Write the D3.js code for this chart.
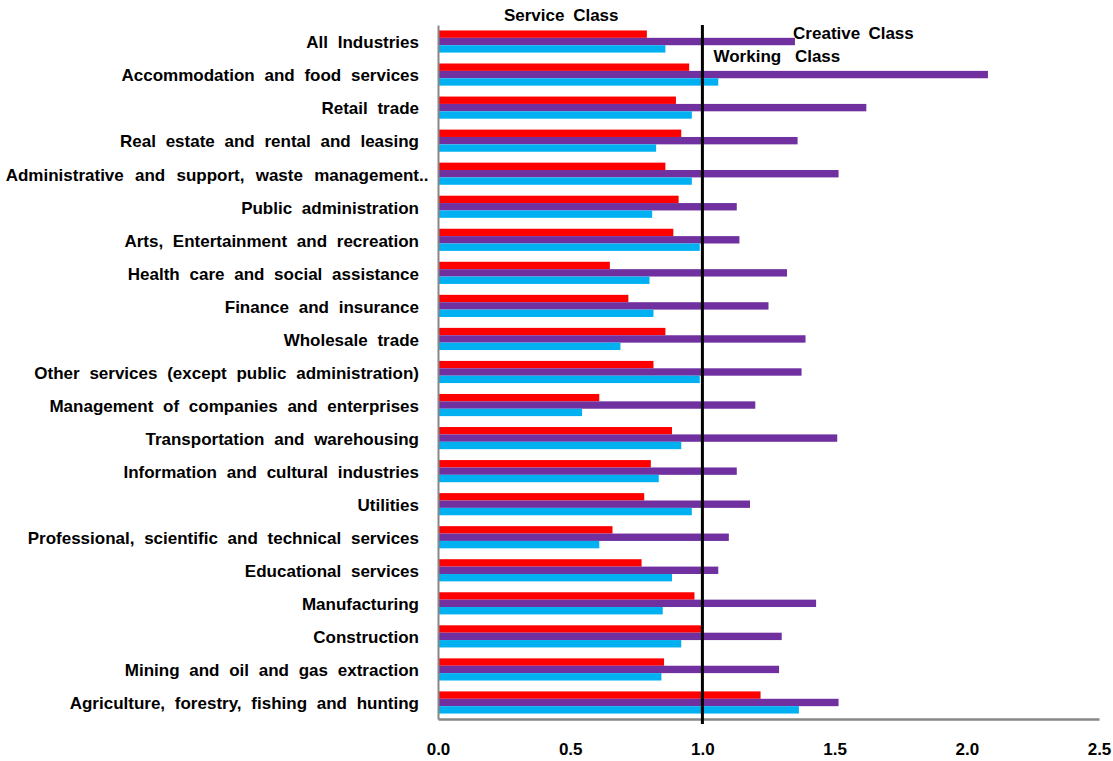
<!DOCTYPE html>
<html>
<head>
<meta charset="utf-8">
<script src="https://cdn.jsdelivr.net/npm/d3@7/dist/d3.min.js"></script>
<style>
  html, body { margin: 0; padding: 0; background: #fff; }
  svg text { font-family: "Liberation Sans", Arial, sans-serif; font-weight: bold; fill: #000; }
</style>
</head>
<body>
<svg id="chart" width="1113" height="761"></svg>
<script>
// Industries, top to bottom
const industries = [
  "All Industries",
  "Accommodation and food services",
  "Retail trade",
  "Real estate and rental and leasing",
  "Administrative and support, waste management..",
  "Public administration",
  "Arts, Entertainment and recreation",
  "Health care and social assistance",
  "Finance and insurance",
  "Wholesale trade",
  "Other services (except public administration)",
  "Management of companies and enterprises",
  "Transportation and warehousing",
  "Information and cultural industries",
  "Utilities",
  "Professional, scientific and technical services",
  "Educational services",
  "Manufacturing",
  "Construction",
  "Mining and oil and gas extraction",
  "Agriculture, forestry, fishing and hunting"
];

const seriesNames = ["Service Class", "Creative Class", "Working Class"];
const seriesColors = ["#ff0000", "#7030a0", "#00b0f0"];

// Location quotients per class
const serviceClass = [0.79, 0.95, 0.90, 0.92, 0.86, 0.91, 0.89, 0.65, 0.72, 0.86, 0.815,
                      0.61, 0.885, 0.805, 0.78, 0.66, 0.77, 0.97, 1.00, 0.855, 1.22];
const creativeClass = [1.35, 2.08, 1.62, 1.36, 1.515, 1.13, 1.14, 1.32, 1.25, 1.39, 1.375,
                       1.20, 1.51, 1.13, 1.18, 1.10, 1.06, 1.43, 1.30, 1.29, 1.515];
const workingClass = [0.86, 1.06, 0.96, 0.825, 0.96, 0.81, 0.99, 0.80, 0.815, 0.69, 0.99,
                      0.545, 0.92, 0.835, 0.96, 0.61, 0.885, 0.85, 0.92, 0.845, 1.365];

const xTicks = [0, 0.5, 1.0, 1.5, 2.0, 2.5];
const referenceValue = 1.0;

const seriesValues = [serviceClass, creativeClass, workingClass];
const rows = industries.map((name, i) => ({
  name,
  values: seriesNames.map((s, k) => ({ series: s, k, value: seriesValues[k][i] }))
}));

const svg = d3.select("#chart");
const plotLeft = 438, plotRight = 1099, plotTop = 25, plotBottom = 719;
const fontSize = "17px";

const x = d3.scaleLinear().domain([0, 2.5]).range([plotLeft, plotRight]);
const y = d3.scaleBand().domain(industries).range([plotTop, plotBottom])
  .paddingInner(0.33).paddingOuter(0.165);
const ySub = d3.scaleBand().domain(seriesNames).range([0, y.bandwidth()]);

// Bars
const groups = svg.append("g").selectAll("g").data(rows).join("g")
  .attr("transform", d => `translate(0,${y(d.name)})`);
groups.selectAll("rect").data(d => d.values).join("rect")
  .attr("x", x(0))
  .attr("y", d => ySub(d.series))
  .attr("width", d => x(d.value) - x(0))
  .attr("height", ySub.bandwidth())
  .attr("fill", d => seriesColors[d.k]);

// Bottom axis
const xAxis = svg.append("g").attr("transform", `translate(0,${plotBottom})`)
  .call(d3.axisBottom(x).tickValues(xTicks).tickFormat(d3.format(".1f"))
    .tickSize(0).tickPadding(24));
xAxis.select(".domain").attr("stroke", "#878787").attr("stroke-width", 2.5);
xAxis.selectAll("text").style("font-size", fontSize);

// Left axis with category names
const yAxis = svg.append("g").attr("transform", `translate(${plotLeft},0)`)
  .call(d3.axisLeft(y).tickSize(0).tickPadding(19));
yAxis.select(".domain").attr("stroke", "#878787").attr("stroke-width", 2);
yAxis.selectAll(".tick text")
  .attr("dy", "0.4em")
  .style("font-size", fontSize)
  .style("word-spacing", "5px")
  .each(function(d) {
    // truncated names keep their trailing dots past the text edge
    if (d.endsWith("..")) {
      const t = d3.select(this);
      t.text(d.slice(0, -2)).style("word-spacing", "6.5px");
      d3.select(this.parentNode).append("text")
        .attr("x", -19).attr("dy", "0.4em")
        .attr("text-anchor", "start")
        .style("font-size", fontSize)
        .text("..");
    }
  });

// Reference line at 1.0
svg.append("line")
  .attr("x1", x(referenceValue)).attr("x2", x(referenceValue))
  .attr("y1", plotTop).attr("y2", plotBottom + 5)
  .attr("stroke", "#000").attr("stroke-width", 3);

// Series labels
const seriesLabels = [
  { text: seriesNames[0], x: x(0.466), y: 21, anchor: "middle", ws: 4 },
  { text: seriesNames[1], x: x(1.343), y: 38.5, anchor: "start", ws: 3.5 },
  { text: seriesNames[2], x: x(1.042), y: 62, anchor: "start", ws: 9 }
];
svg.append("g").selectAll("text").data(seriesLabels).join("text")
  .attr("x", d => d.x).attr("y", d => d.y)
  .attr("text-anchor", d => d.anchor)
  .style("font-size", fontSize)
  .style("word-spacing", d => d.ws + "px")
  .text(d => d.text);
</script>
</body>
</html>
